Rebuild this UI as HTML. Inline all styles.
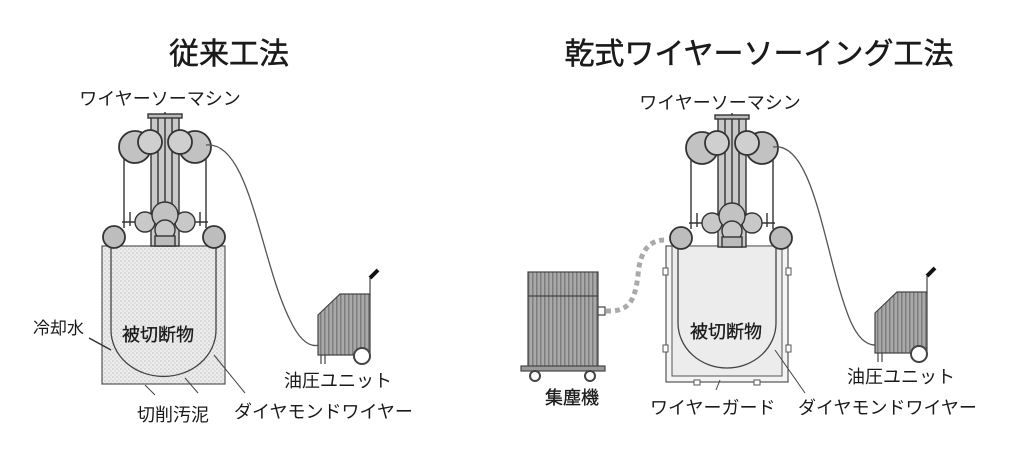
<!DOCTYPE html>
<html><head><meta charset="utf-8"><style>
body{margin:0;background:#fff;}
svg{display:block;}
text{font-family:"Liberation Sans","Noto Sans CJK JP",sans-serif;fill:#1a1a1a;}
</style></head><body>
<svg width="1024" height="454" viewBox="0 0 1024 454" xmlns="http://www.w3.org/2000/svg">
<defs>
<pattern id="dots" width="4" height="4" patternUnits="userSpaceOnUse"><rect width="4" height="4" fill="#ececec"/><circle cx="1" cy="1" r="0.7" fill="#bdbdbd"/><circle cx="3" cy="3" r="0.7" fill="#cfcfcf"/></pattern>
<pattern id="stripes" width="4" height="4" patternUnits="userSpaceOnUse"><rect width="4" height="4" fill="#a9a9a9"/><rect width="1.5" height="4" fill="#7d7d7d"/></pattern>
<g id="machine" stroke="#333" stroke-width="1.4">
  <line x1="124" y1="148" x2="124" y2="228" />
  <line x1="206" y1="148" x2="206" y2="228" />
  <rect x="151" y="116" width="28" height="130" fill="#c9c9c9"/>
  <line x1="158" y1="116" x2="158" y2="246"/><line x1="165" y1="112" x2="165" y2="246"/><line x1="172" y1="116" x2="172" y2="246"/>
  <rect x="148" y="114" width="34" height="4" fill="#bbb"/>
  <circle cx="135" cy="147" r="16" fill="#c2c2c2" stroke-width="1.8"/>
  <circle cx="195" cy="147" r="16" fill="#c2c2c2" stroke-width="1.8"/>
  <circle cx="150" cy="142" r="12" fill="#cfcfcf" stroke-width="1.8"/>
  <circle cx="180" cy="142" r="12" fill="#cfcfcf" stroke-width="1.8"/>
  <line x1="122" y1="222" x2="208" y2="222"/>
  <line x1="130" y1="212" x2="130" y2="226"/><line x1="200" y1="212" x2="200" y2="226"/>
  <circle cx="145" cy="222" r="10" fill="#c8c8c8"/>
  <circle cx="185" cy="222" r="10" fill="#c8c8c8"/>
  <circle cx="165" cy="215" r="13" fill="#c2c2c2"/>
  <circle cx="165" cy="230" r="10" fill="#c8c8c8"/>
  <circle cx="114" cy="237" r="11" fill="#bdbdbd" stroke-width="1.8"/>
  <circle cx="214" cy="237" r="11" fill="#bdbdbd" stroke-width="1.8"/>
  <rect x="155" y="236" width="20" height="10" fill="#bbb"/>
</g>
<g id="oil" stroke="#444" stroke-width="1.2">
  <line x1="370" y1="296" x2="370" y2="278"/>
  <line x1="370" y1="278" x2="378" y2="270" stroke="#111" stroke-width="4"/>
  <polygon points="318,315 340,294 370,294 370,355 318,355" fill="url(#stripes)"/>
  <line x1="321" y1="355" x2="321" y2="364"/><line x1="325" y1="355" x2="325" y2="364"/>
  <circle cx="362" cy="356" r="8" fill="#fff" stroke-width="2"/>
</g>
</defs>

<text x="229" y="64" font-size="30" text-anchor="middle" stroke="#1a1a1a" stroke-width="0.5">従来工法</text>
<text x="759" y="64" font-size="30" text-anchor="middle" stroke="#1a1a1a" stroke-width="0.5">乾式ワイヤーソーイング工法</text>
<text x="160" y="105" font-size="18" text-anchor="middle">ワイヤーソーマシン</text>
<text x="720" y="109" font-size="18" text-anchor="middle">ワイヤーソーマシン</text>

<rect x="102" y="246" width="123" height="138" fill="url(#dots)" stroke="#555" stroke-width="1.2"/>
<path d="M111 246 V330 A52 46 0 0 0 216 330 V246" fill="none" stroke="#444" stroke-width="1.3"/>
<use href="#machine"/>
<path d="M206 145 C250 140 260 260 290 320 C305 352 318 345 320 345" fill="none" stroke="#555" stroke-width="1.3"/>
<use href="#oil"/>
<line x1="89" y1="338" x2="111" y2="350" stroke="#333" stroke-width="1.5"/>
<line x1="145" y1="385" x2="155" y2="395" stroke="#444"/>
<line x1="185" y1="378" x2="198" y2="393" stroke="#444"/>
<line x1="214" y1="355" x2="245" y2="393" stroke="#444"/>
<text x="33" y="334" font-size="17">冷却水</text>
<text x="122" y="341" font-size="18" stroke="#1a1a1a" stroke-width="0.3">被切断物</text>
<text x="137" y="421" font-size="18">切削汚泥</text>
<text x="284" y="387" font-size="18">油圧ユニット</text>
<text x="234" y="418" font-size="18">ダイヤモンドワイヤー</text>

<rect x="666" y="246" width="122" height="136" fill="#f4f4f4" stroke="#555" stroke-width="1.2"/>
<rect x="672" y="246" width="110" height="130" fill="#ececec" stroke="#555" stroke-width="1"/>
<g fill="#fff" stroke="#555"><rect x="663" y="268" width="5" height="7"/><rect x="663" y="345" width="5" height="7"/><rect x="786" y="268" width="5" height="7"/><rect x="786" y="345" width="5" height="7"/><rect x="694" y="380" width="6" height="5"/><rect x="754" y="380" width="6" height="5"/></g>
<path d="M678 246 V323 A49 45 0 0 0 776 323 V246" fill="none" stroke="#444" stroke-width="1.3"/>
<use href="#machine" transform="translate(567,1)"/>
<path d="M773 147 C815 140 825 260 850 320 C862 348 875 345 877 345" fill="none" stroke="#555" stroke-width="1.3"/>
<use href="#oil" transform="translate(557,-2)"/>
<g stroke="#444" stroke-width="1.2">
<rect x="528" y="272" width="70" height="96" fill="url(#stripes)"/>
<line x1="528" y1="296" x2="598" y2="296"/>
<rect x="521" y="366" width="84" height="5" fill="#999"/>
<circle cx="535" cy="376" r="5" fill="#fff" stroke-width="2"/>
<circle cx="590" cy="376" r="5" fill="#fff" stroke-width="2"/>
<rect x="598" y="307" width="7" height="8" fill="#fff"/>
</g>
<path d="M606 311 C630 312 635 300 638 275 C640 250 650 240 665 240" fill="none" stroke="#aaa" stroke-width="5" stroke-dasharray="5 4"/>
<line x1="720" y1="380" x2="716" y2="390" stroke="#444"/>
<line x1="775" y1="350" x2="805" y2="393" stroke="#444"/>
<text x="690" y="338" font-size="18" stroke="#1a1a1a" stroke-width="0.3">被切断物</text>
<text x="847" y="383" font-size="18">油圧ユニット</text>
<text x="545" y="404" font-size="18" stroke="#1a1a1a" stroke-width="0.3">集塵機</text>
<text x="650" y="414" font-size="18">ワイヤーガード</text>
<text x="798" y="414" font-size="18">ダイヤモンドワイヤー</text>
</svg>
</body></html>
